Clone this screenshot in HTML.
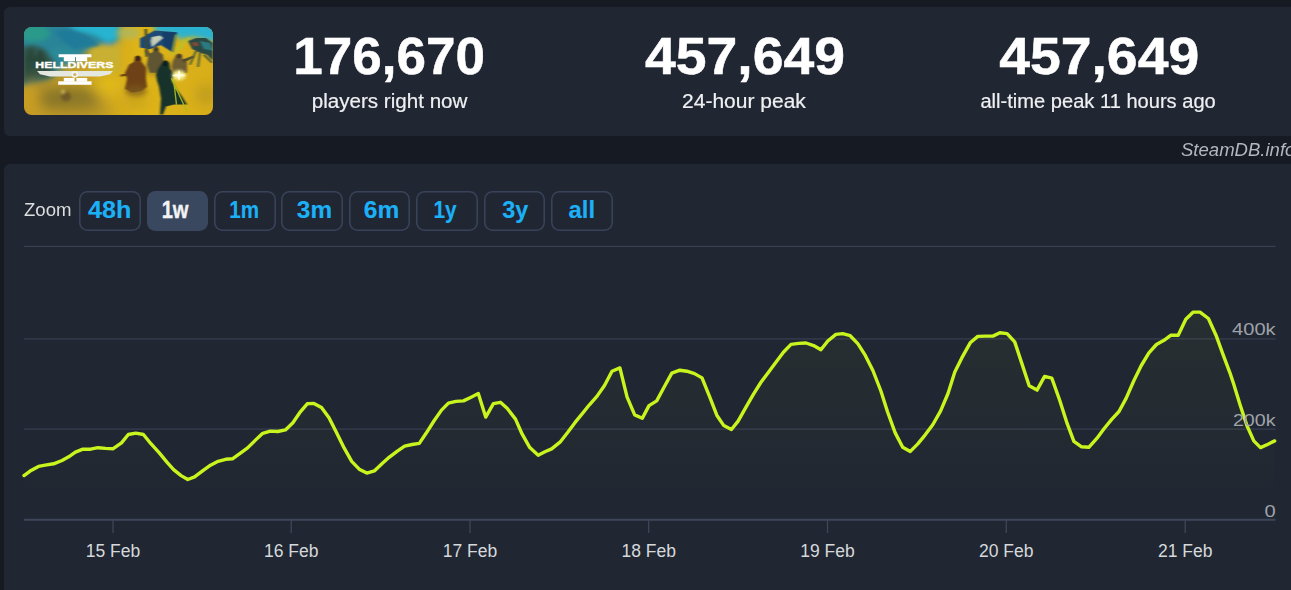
<!DOCTYPE html>
<html lang="en"><head><meta charset="utf-8"><title>HELLDIVERS 2 - Steam Charts - SteamDB</title>
<style>
html,body{margin:0;padding:0;}
body{width:1291px;height:590px;overflow:hidden;background:#161a23;position:relative;font-family:"Liberation Sans",sans-serif;}
.panel{position:absolute;left:4px;right:-20px;background:#202632;border-radius:6px;}
#p1{top:7px;height:129px;}
#p2{top:164px;height:460px;}
.cap{position:absolute;left:24px;top:26.5px;width:189px;height:88.5px;border-radius:8px;overflow:hidden;}
.stat{position:absolute;top:0;width:400px;text-align:center;color:#fff;}
.stat b{position:absolute;left:0;right:0;top:26px;font-size:52px;line-height:60px;font-weight:700;-webkit-text-stroke:0.5px #fff;}
.stat b i,.stat span i,.zb i,#wm i,#zl i{display:inline-block;font-style:inherit;transform-origin:50% 50%;}
.stat span{position:absolute;left:0;right:0;top:89px;font-size:20px;line-height:24px;color:#eef0f2;-webkit-text-stroke:0.2px #eef0f2;}
#wm{position:absolute;left:1181px;top:138px;font-size:18px;line-height:24px;font-style:italic;color:#b3b7be;white-space:nowrap;}
#zl{position:absolute;left:24px;top:198px;font-size:18px;line-height:24px;color:#dcdedf;}
.zb{position:absolute;top:191px;width:61.5px;height:39.5px;box-shadow:inset 0 0 0 1.6px #384359;border-radius:8.5px;color:#1cb0f6;font-weight:700;font-size:23.5px;line-height:39px;text-align:center;-webkit-text-stroke:0.15px currentColor;}
.zb.on{background:#3a485f;box-shadow:none;color:#f2f3f5;-webkit-text-stroke:0.4px currentColor;}
svg text{font-family:"Liberation Sans",sans-serif;}
</style></head><body>
<div class="panel" id="p1"></div>
<div class="panel" id="p2"></div>
<div class="cap"><svg width="189" height="89" viewBox="0 0 189 89" preserveAspectRatio="none" style="display:block;width:189px;height:88.5px">
<defs>
<linearGradient id="cb" x1="0" y1="0" x2="1" y2="0"><stop offset="0" stop-color="#c09826"/><stop offset="0.35" stop-color="#c8a024"/><stop offset="0.6" stop-color="#deb418"/><stop offset="1" stop-color="#d8ae1a"/></linearGradient>
<filter id="b8" x="-50%" y="-50%" width="200%" height="200%"><feGaussianBlur stdDeviation="7"/></filter>
<filter id="b5" x="-50%" y="-50%" width="200%" height="200%"><feGaussianBlur stdDeviation="4"/></filter>
<filter id="b3" x="-50%" y="-50%" width="200%" height="200%"><feGaussianBlur stdDeviation="2.5"/></filter>
<filter id="b2" x="-50%" y="-50%" width="200%" height="200%"><feGaussianBlur stdDeviation="1.5"/></filter>
<filter id="b1" x="-50%" y="-50%" width="200%" height="200%"><feGaussianBlur stdDeviation="0.8"/></filter>
<filter id="b05" x="-50%" y="-50%" width="200%" height="200%"><feGaussianBlur stdDeviation="0.4"/></filter>
</defs>
<rect width="189" height="89" fill="url(#cb)"/>
<!-- sky left -->
<g filter="url(#b5)">
<path d="M-10,-10H96L93,16L84,20L72,19L62,24L58,33L42,38L28,50L-10,60Z" fill="#2a8498"/>
</g>
<g filter="url(#b3)">
<path d="M38,-6H94V12L84,16L70,8L52,4Z" fill="#27b4d0"/>
<ellipse cx="10" cy="6" rx="16" ry="9" fill="#2a9a8a"/>
<path d="M-4,20L10,18L22,24L30,34L28,50L-4,58Z" fill="#33544a"/>
<ellipse cx="40" cy="27" rx="14" ry="6" fill="#2a8c98"/>
<path d="M66,22L78,18L90,20L96,16V46H66Z" fill="#c9b032"/>
</g>
<!-- ship silhouette -->
<g filter="url(#b2)">
<path d="M30,4L44,2L62,8L70,14L76,18L66,20L50,22L38,14Z" fill="#1f7a9a" opacity="0.9"/>
<path d="M2,30L7,20L11,30L17,22L22,34L24,46L2,50Z" fill="#27443a" opacity="0.8"/>
</g>
<!-- sky right -->
<g filter="url(#b3)">
<path d="M128,-8H200V16L186,14L170,10L156,12L150,8L132,6Z" fill="#2ab2d0"/>
<ellipse cx="104" cy="6" rx="12" ry="6" fill="#a8b868" opacity="0.7"/>
</g>
<!-- smoke shading -->
<g filter="url(#b8)">
<ellipse cx="44" cy="72" rx="32" ry="12" fill="#7e7028" opacity="0.9"/>
<ellipse cx="60" cy="84" rx="30" ry="6" fill="#a88a26" opacity="0.8"/>
<ellipse cx="6" cy="72" rx="7" ry="16" fill="#d2a420" opacity="0.9"/>
<ellipse cx="84" cy="58" rx="14" ry="8" fill="#e8c216" opacity="0.9"/>
<ellipse cx="182" cy="68" rx="9" ry="10" fill="#b09222" opacity="0.8"/>
<ellipse cx="112" cy="74" rx="12" ry="8" fill="#b8961e" opacity="0.6"/>
<ellipse cx="12" cy="50" rx="12" ry="5" fill="#4a6044" opacity="0.8"/>
</g>
<g filter="url(#b2)">
<ellipse cx="42" cy="70" rx="5" ry="5" fill="#6a5226" opacity="0.8"/>
<ellipse cx="39" cy="65" rx="1.6" ry="1.6" fill="#e8d070"/>
</g>
<g filter="url(#b3)"><ellipse cx="140" cy="42" rx="22" ry="8" fill="#8a7426" opacity="0.5"/></g>
<!-- flag -->
<g filter="url(#b1)">
<path d="M116,11.5L130.6,3.6L153,5.4L151,16L149,25.6L136.7,18L126,22.4L116,20.5Z" fill="#1a4876"/>
<path d="M138,5L153,5.4L149,25.6L140,19Z" fill="#153a62" opacity="0.7"/>
<path d="M128,10L136,8.5L139,11L134,15L128,20L127,14Z" fill="#d6dcc0" opacity="0.9"/>
<path d="M120.6,2L123,2L124,30L121.6,30Z" fill="#3a4a2c"/>
</g>
<!-- bug top-right -->
<g filter="url(#b1)">
<path d="M164,14L172,11L182,11L189,16V34L183,28L176,26L168,22Z" fill="#2c4a44"/>
<path d="M168,15.5L173,15L174.5,18.5L170,19.5Z" fill="#94482f" opacity="0.85"/>
<path d="M176,14L186,16L189,24L180,22Z" fill="#2a7a80"/>
<path d="M152,7.6L147.4,29M165,10L155,23M160,12L151,27" stroke="#b4c42c" stroke-width="1.4" fill="none"/>
<path d="M172,24L166,38M180,28L188,36M176,26L174,40" stroke="#2e4a3c" stroke-width="1.6" fill="none"/>
</g>
<!-- figures -->
<g filter="url(#b1)">
<!-- back centre figure -->
<path d="M129.5,21L132,19.5L134.5,21L135,25L139,28L140,36L138,46L126,46L123,38L124,30L121,24L123,22L126,27L129,25Z" fill="#5e5432"/>
<circle cx="132" cy="22.5" r="2.2" fill="#3a3a2c"/>
<!-- right tan figure -->
<path d="M152,28L155,26.5L158,28L158.5,32L163,35L163,46L150,48L148,40L149,34Z" fill="#6e5c30"/>
<circle cx="155.2" cy="29.5" r="2.3" fill="#4a3a22"/>
<path d="M158,33L169,29L170,30.5L160,36Z" fill="#4a4a30"/>
<!-- brown left figure -->
<path d="M111,30L114,28.5L117,30.5L117.5,35L122,41L122,52L123,60L118,64L108,66L101,62L103,52L101,46L105,38L110,35Z" fill="#6e4216"/>
<circle cx="113.8" cy="31.6" r="2.6" fill="#3e2812"/>
<path d="M96,48L106,46L107,48L97,50Z" fill="#6a4418"/>
<!-- centre front dark figure -->
<path d="M138,36L141.5,33.5L145,36L146,42L150,47L148,54L152,62L158,70L163,78L150,78L142,80L139,88L136,88L137,72L135,60L133,54L132,48L134,42Z" fill="#17302a"/>
<circle cx="141.4" cy="36.6" r="2.8" fill="#10201c"/>
</g>
<g filter="url(#b3)"><ellipse cx="112" cy="64" rx="11" ry="6" fill="#7a5a1c" opacity="0.7"/></g>
<!-- streaks & flash -->
<g filter="url(#b05)">
<path d="M147.4,51.6L162.7,84.5M149.5,52L152.5,78" stroke="#a8c020" stroke-width="1.4" fill="none" opacity="0.9"/>
</g>
<g filter="url(#b2)"><ellipse cx="155" cy="48.6" rx="7" ry="5" fill="#f6ee90"/></g>
<g filter="url(#b05)"><path d="M155,43L156.4,47.2L162,48.6L156.4,50L155,54L153.6,50L148,48.6L153.6,47.2Z" fill="#fffce6"/></g>
<!-- logo -->
<g fill="#ffffff" filter="url(#b05)">
<rect x="34.6" y="27.4" width="32.8" height="3"/>
<rect x="39.8" y="30" width="11.2" height="4.4"/><rect x="52" y="30" width="11.2" height="4.4"/>
<rect x="39.8" y="51.2" width="10.8" height="3.8"/><rect x="52.4" y="51.2" width="10.8" height="3.8"/>
<rect x="34.2" y="54.6" width="33.4" height="3.5"/>
<path d="M13,44.2H89L86,47.4L76,49.8H26L16,47.4Z" fill="#e4e8e0"/>
<circle cx="50.8" cy="47.6" r="3.4" fill="#f4f4ec"/>
</g>
<circle cx="50.8" cy="47.8" r="1.6" fill="#b09a40" opacity="0.7"/>
<text x="11.3" y="41.7" font-family="Liberation Sans, sans-serif" font-weight="700" font-size="9" fill="#ffffff" stroke="#ffffff" stroke-width="0.35" textLength="78.2" lengthAdjust="spacingAndGlyphs">HELLDIVERS</text>
</svg>
</div>
<div class="stat" style="left:190px"><b><i style="transform:translateX(-0.8px) scaleX(1.02)">176,670</i></b><span><i style="transform:scaleX(1.03)">players right now</i></span></div>
<div class="stat" style="left:544px"><b><i style="transform:translateX(1px) scaleX(1.064)">457,649</i></b><span><i style="transform:scaleX(1.05)">24-hour peak</i></span></div>
<div class="stat" style="left:898px"><b><i style="transform:translateX(1.2px) scaleX(1.064)">457,649</i></b><span><i style="transform:scaleX(1.005)">all-time peak 11 hours ago</i></span></div>
<div id="wm"><i style="transform:scaleX(1.03);transform-origin:0 50%">SteamDB.info</i></div>
<div id="zl"><i style="transform:scaleX(1.033);transform-origin:0 50%">Zoom</i></div>
<div class="zb" style="left:79.2px"><i style="transform:translateX(-0.5px) scaleX(1.070)">48h</i></div>
<div class="zb on" style="left:146.6px"><i style="transform:translateX(-2.6px) scaleX(0.856)">1w</i></div>
<div class="zb" style="left:214.0px"><i style="transform:translateX(-0.8px) scaleX(0.879)">1m</i></div>
<div class="zb" style="left:281.4px"><i style="transform:translateX(2.5px) scaleX(1.037)">3m</i></div>
<div class="zb" style="left:348.8px"><i style="transform:translateX(1.6px) scaleX(1.044)">6m</i></div>
<div class="zb" style="left:416.2px"><i style="transform:translateX(-2.0px) scaleX(0.889)">1y</i></div>
<div class="zb" style="left:483.6px"><i style="transform:translateX(1.1px) scaleX(0.996)">3y</i></div>
<div class="zb" style="left:551.0px"><i style="transform:translateX(-0.3px) scaleX(1.018)">all</i></div>
<svg width="1291" height="590" viewBox="0 0 1291 590" style="position:absolute;left:0;top:0">
<defs><linearGradient id="ag" x1="0" y1="311" x2="0" y2="520" gradientUnits="userSpaceOnUse"><stop offset="0" stop-color="#c8f51e" stop-opacity="0.045"/><stop offset="1" stop-color="#c8f51e" stop-opacity="0"/></linearGradient></defs>
<g stroke="#363f50" stroke-width="1.3" fill="none">
<path d="M24,246.3H1275.5"/><path d="M24,338.8H1275.5"/><path d="M24,429.2H1275.5"/>
</g>
<path d="M24,519.8H1275.5" stroke="#3e475a" stroke-width="2" fill="none"/>
<g stroke="#3e475a" stroke-width="1.3" fill="none">
<path d="M113,520V533"/><path d="M291.2,520V533"/><path d="M470,520V533"/><path d="M648.7,520V533"/><path d="M827.5,520V533"/><path d="M1006.3,520V533"/><path d="M1185.2,520V533"/>
</g>
<path d="M24.0,475.6 L30.1,471.1 L38.5,466.4 L45.2,465.2 L53.6,463.8 L62.0,460.5 L68.7,456.8 L75.4,452.1 L82.9,449.1 L90.5,449.2 L98.0,447.7 L105.6,448.4 L113.2,448.7 L121.5,442.9 L128.3,434.5 L135.8,433.1 L143.4,434.5 L150.9,443.7 L159.3,452.9 L166.9,462.2 L173.6,469.7 L181.1,475.6 L187.8,479.5 L194.6,476.9 L202.9,470.6 L210.5,465.2 L218.1,461.3 L225.6,459.3 L232.4,458.8 L240.1,453.4 L247.6,447.9 L255.2,440.4 L262.7,433.3 L270.3,431.1 L277.8,431.5 L285.4,429.9 L292.9,422.7 L299.7,412.7 L307.2,403.8 L313.9,403.4 L321.5,407.6 L329.0,417.7 L336.6,432.8 L344.1,447.9 L351.7,461.3 L359.2,469.2 L366.8,473.1 L374.3,470.9 L381.9,463.8 L389.4,457.1 L397.0,451.3 L404.6,446.2 L412.1,444.5 L419.3,443.4 L426.4,432.8 L433.9,421.0 L441.5,410.1 L448.4,403.1 L455.9,401.4 L463.5,400.9 L471.1,397.2 L478.3,393.6 L485.7,417.1 L493.4,403.6 L500.4,402.3 L507.1,408.2 L515.5,419.1 L522.2,434.2 L529.8,447.6 L538.2,455.2 L544.9,451.8 L551.6,448.9 L560.0,442.2 L567.6,432.5 L575.1,422.4 L582.7,413.2 L589.4,404.8 L596.9,396.4 L604.5,385.5 L612.0,371.2 L619.9,367.9 L627.1,397.2 L634.7,414.9 L642.3,418.2 L649.0,405.6 L656.7,400.9 L664.3,386.7 L671.8,373.2 L679.9,370.2 L686.9,371.2 L694.5,373.6 L702.0,377.9 L709.6,396.7 L716.8,415.2 L723.8,425.6 L731.4,429.5 L738.1,421.1 L745.7,407.7 L753.2,394.7 L760.8,382.5 L768.3,372.4 L775.9,362.3 L783.4,352.3 L791.0,344.4 L798.5,343.4 L806.1,343.0 L813.6,345.6 L820.9,349.7 L827.8,341.0 L835.9,334.4 L842.7,333.6 L850.2,335.7 L857.8,343.6 L865.3,355.4 L872.9,370.5 L880.9,391.0 L887.6,412.0 L895.2,432.9 L902.7,447.2 L910.3,451.4 L917.8,443.9 L925.4,434.6 L932.9,424.5 L940.5,411.1 L948.0,393.5 L954.8,372.0 L961.8,357.9 L970.2,342.8 L977.8,336.4 L985.3,336.1 L992.9,336.1 L999.9,332.7 L1007.1,333.6 L1014.7,341.9 L1021.4,362.1 L1029.2,385.8 L1037.0,390.1 L1044.6,376.4 L1051.8,378.1 L1059.7,400.2 L1067.2,423.7 L1073.9,441.3 L1081.6,446.8 L1088.8,447.3 L1096.8,438.4 L1104.4,428.3 L1111.9,419.1 L1119.0,411.5 L1126.2,398.1 L1133.7,381.0 L1141.3,365.5 L1148.9,352.9 L1156.4,344.5 L1164.0,340.3 L1171.0,335.2 L1178.2,335.2 L1185.8,319.3 L1193.3,312.1 L1200.0,312.1 L1208.4,318.5 L1216.0,335.2 L1222.7,353.7 L1230.3,373.9 L1233.6,383.8 L1240.3,405.6 L1247.0,425.8 L1253.8,440.9 L1260.5,447.6 L1268.0,444.2 L1274.7,440.9 L1274.7,519.8 L24,519.8 Z" fill="url(#ag)" stroke="none"/>
<path d="M24.0,475.6 L30.1,471.1 L38.5,466.4 L45.2,465.2 L53.6,463.8 L62.0,460.5 L68.7,456.8 L75.4,452.1 L82.9,449.1 L90.5,449.2 L98.0,447.7 L105.6,448.4 L113.2,448.7 L121.5,442.9 L128.3,434.5 L135.8,433.1 L143.4,434.5 L150.9,443.7 L159.3,452.9 L166.9,462.2 L173.6,469.7 L181.1,475.6 L187.8,479.5 L194.6,476.9 L202.9,470.6 L210.5,465.2 L218.1,461.3 L225.6,459.3 L232.4,458.8 L240.1,453.4 L247.6,447.9 L255.2,440.4 L262.7,433.3 L270.3,431.1 L277.8,431.5 L285.4,429.9 L292.9,422.7 L299.7,412.7 L307.2,403.8 L313.9,403.4 L321.5,407.6 L329.0,417.7 L336.6,432.8 L344.1,447.9 L351.7,461.3 L359.2,469.2 L366.8,473.1 L374.3,470.9 L381.9,463.8 L389.4,457.1 L397.0,451.3 L404.6,446.2 L412.1,444.5 L419.3,443.4 L426.4,432.8 L433.9,421.0 L441.5,410.1 L448.4,403.1 L455.9,401.4 L463.5,400.9 L471.1,397.2 L478.3,393.6 L485.7,417.1 L493.4,403.6 L500.4,402.3 L507.1,408.2 L515.5,419.1 L522.2,434.2 L529.8,447.6 L538.2,455.2 L544.9,451.8 L551.6,448.9 L560.0,442.2 L567.6,432.5 L575.1,422.4 L582.7,413.2 L589.4,404.8 L596.9,396.4 L604.5,385.5 L612.0,371.2 L619.9,367.9 L627.1,397.2 L634.7,414.9 L642.3,418.2 L649.0,405.6 L656.7,400.9 L664.3,386.7 L671.8,373.2 L679.9,370.2 L686.9,371.2 L694.5,373.6 L702.0,377.9 L709.6,396.7 L716.8,415.2 L723.8,425.6 L731.4,429.5 L738.1,421.1 L745.7,407.7 L753.2,394.7 L760.8,382.5 L768.3,372.4 L775.9,362.3 L783.4,352.3 L791.0,344.4 L798.5,343.4 L806.1,343.0 L813.6,345.6 L820.9,349.7 L827.8,341.0 L835.9,334.4 L842.7,333.6 L850.2,335.7 L857.8,343.6 L865.3,355.4 L872.9,370.5 L880.9,391.0 L887.6,412.0 L895.2,432.9 L902.7,447.2 L910.3,451.4 L917.8,443.9 L925.4,434.6 L932.9,424.5 L940.5,411.1 L948.0,393.5 L954.8,372.0 L961.8,357.9 L970.2,342.8 L977.8,336.4 L985.3,336.1 L992.9,336.1 L999.9,332.7 L1007.1,333.6 L1014.7,341.9 L1021.4,362.1 L1029.2,385.8 L1037.0,390.1 L1044.6,376.4 L1051.8,378.1 L1059.7,400.2 L1067.2,423.7 L1073.9,441.3 L1081.6,446.8 L1088.8,447.3 L1096.8,438.4 L1104.4,428.3 L1111.9,419.1 L1119.0,411.5 L1126.2,398.1 L1133.7,381.0 L1141.3,365.5 L1148.9,352.9 L1156.4,344.5 L1164.0,340.3 L1171.0,335.2 L1178.2,335.2 L1185.8,319.3 L1193.3,312.1 L1200.0,312.1 L1208.4,318.5 L1216.0,335.2 L1222.7,353.7 L1230.3,373.9 L1233.6,383.8 L1240.3,405.6 L1247.0,425.8 L1253.8,440.9 L1260.5,447.6 L1268.0,444.2 L1274.7,440.9" fill="none" stroke="#c8f51e" stroke-width="3.4" stroke-linejoin="round" stroke-linecap="round"/>
<g fill="#d6d9dc" font-size="17.5" text-anchor="middle">
<text x="113" y="557">15 Feb</text><text x="291.2" y="557">16 Feb</text><text x="470" y="557">17 Feb</text><text x="648.7" y="557">18 Feb</text><text x="827.5" y="557">19 Feb</text><text x="1006.3" y="557">20 Feb</text><text x="1185.2" y="557">21 Feb</text>
</g>
<g fill="#9ea3aa" font-size="15.7" text-anchor="end">
<text x="1275.6" y="334.5" textLength="43.5" lengthAdjust="spacingAndGlyphs">400k</text><text x="1275.6" y="425.8" textLength="42.7" lengthAdjust="spacingAndGlyphs">200k</text><text x="1275.6" y="516.7" textLength="11.2" lengthAdjust="spacingAndGlyphs">0</text>
</g>
</svg>
</body></html>
